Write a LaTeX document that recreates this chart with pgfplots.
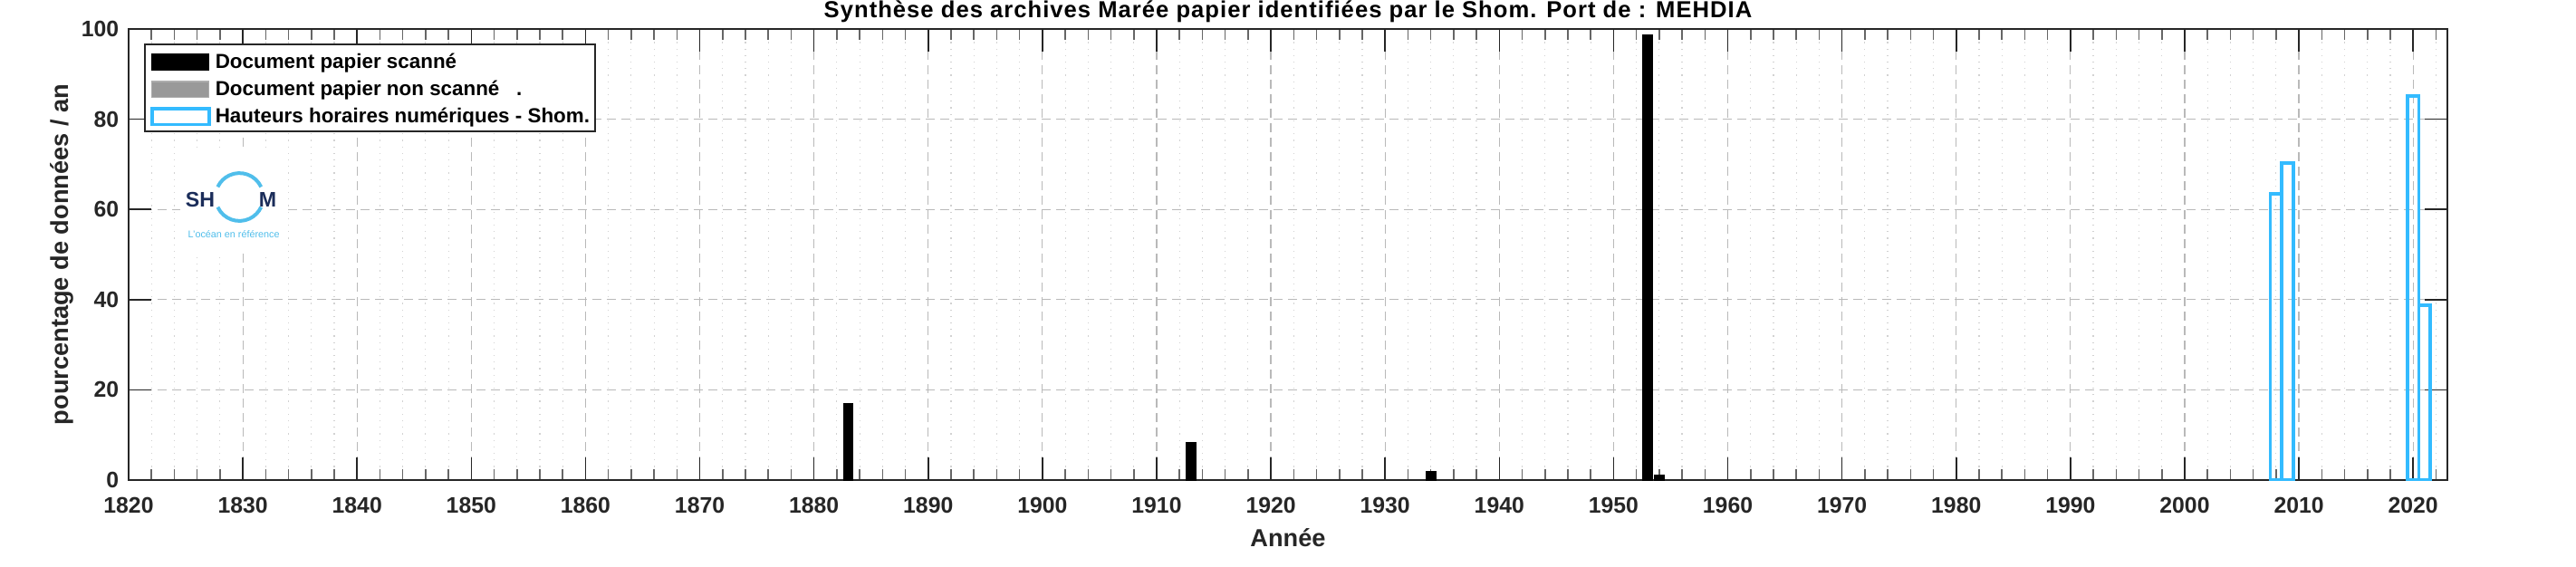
\documentclass[border=0pt]{standalone}
\usepackage{fontspec}
\setmainfont{Liberation Sans}
\newfontfamily\titlefont[LetterSpace=4]{Liberation Sans}
\usepackage{pgfplots}
\pgfplotsset{compat=1.18}
\definecolor{shomblue}{RGB}{51,187,255}
\definecolor{gridgray}{RGB}{185,185,185}
\definecolor{minorgray}{RGB}{210,210,210}
\definecolor{textgray}{RGB}{38,38,38}
\definecolor{logonavy}{RGB}{27,45,90}
\definecolor{logoblue}{RGB}{80,190,235}
\definecolor{legendgray}{RGB}{153,153,153}
\pgfplotsset{mylegend/.style={legend image code/.code={\draw[##1] (0pt,-0.4pt) rectangle (15.75pt,4pt);}}}
\begin{document}
\begin{tikzpicture}
\begin{axis}[
  scale only axis, width=640pt, height=124.5pt,
  xmin=1820, xmax=2023, ymin=0, ymax=100,
  xtick={1820,1830,...,2020}, ytick={0,20,...,100},
  minor xtick={1822,1824,1826,1828,1832,1834,1836,1838,1842,1844,1846,1848,1852,1854,1856,1858,1862,1864,1866,1868,1872,1874,1876,1878,1882,1884,1886,1888,1892,1894,1896,1898,1902,1904,1906,1908,1912,1914,1916,1918,1922,1924,1926,1928,1932,1934,1936,1938,1942,1944,1946,1948,1952,1954,1956,1958,1962,1964,1966,1968,1972,1974,1976,1978,1982,1984,1986,1988,1992,1994,1996,1998,2002,2004,2006,2008,2012,2014,2016,2018,2022},
  xmajorgrids, ymajorgrids, xminorgrids,
  tick align=inside, major tick length=6.25pt, minor tick length=3pt,
  major tick style={textgray, line width=0.4pt},
  minor tick style={black!60, line width=0.4pt},
  axis line style={textgray, line width=0.5pt},
  major grid style={gridgray, line width=0.3pt, dash pattern=on 2.5pt off 1.5pt},
  minor grid style={minorgray, line width=0.3pt, dash pattern=on 0.3pt off 1.5pt},
  /pgf/number format/assume math mode=true,
  /pgf/number format/1000 sep={},
  xticklabel style={font=\fontsize{6.2}{7}\selectfont\bfseries, text=textgray, inner sep=0pt, yshift=-4.5pt},
  yticklabel style={font=\fontsize{6.2}{7}\selectfont\bfseries, text=textgray, inner sep=0pt, xshift=-2.5pt},
  every axis title/.style={at={(0.5,1)}, anchor=base, yshift=3.25pt, inner sep=0pt, font=\fontsize{6.4}{8}\titlefont\bfseries},
  every axis x label/.style={at={(0.5,-0.1064)}, anchor=north, inner sep=0pt, font=\fontsize{6.8}{8}\selectfont\bfseries, text=textgray},
  every axis y label/.style={at={(-0.0289,0.5)}, rotate=90, anchor=center, inner sep=0pt, font=\fontsize{6.8}{8}\selectfont\bfseries, text=textgray},
  title={Synthèse des archives Marée papier identifiées par le Shom. Port de : MEHDIA},
  xlabel={Année},
  ylabel={pourcentage de données / an},
  legend cell align=left,
  legend style={at={(0.00664,0.9679)}, anchor=north west, draw=textgray, line width=0.5pt, fill=white,
    inner xsep=1.5pt, inner ysep=0.75pt, row sep=0pt, column sep=1.25pt,
    font=\fontsize{5.6}{6}\selectfont\bfseries,
    cells={anchor=base west},
    nodes={inner sep=0pt, text height=6pt, text depth=1.5pt}},
]
\addplot[ybar, bar width=0.85, bar shift=0pt, fill=black, draw=black, line width=0.3pt, mylegend]
  coordinates {(1883,16.9) (1913,8.4) (1934,1.8) (1953,98.6) (1954,1.0)};
\addlegendentry{Document papier scanné}
\addlegendimage{fill=legendgray, draw=legendgray!80, line width=0.3pt, mylegend}
\addlegendentry{Document papier non scanné\ \ \ .}
\addplot[ybar, bar width=1, bar shift=0pt, fill=none, draw=shomblue, line width=0.95pt, mylegend]
  coordinates {(2008,63.4) (2009,70.3) (2020,85.1) (2021,38.7)};
\addlegendentry{Hauteurs horaires numériques - Shom.}
% logo
\fill[white] (axis cs:1824.5,50.2) rectangle (axis cs:1833.5,72.7);
\draw[logoblue, line width=1pt] ([shift={(25:6.6pt)}]axis cs:1829.7,62.75) arc[start angle=25,end angle=155,radius=6.6pt];
\draw[logoblue, line width=1pt] ([shift={(205:6.6pt)}]axis cs:1829.7,62.75) arc[start angle=205,end angle=335,radius=6.6pt];
\node[anchor=base east, inner sep=0pt, text=logonavy, font=\fontsize{5.8}{6}\selectfont\bfseries] at (axis cs:1827.6,60.6) {SH};
\node[anchor=base west, inner sep=0pt, text=logonavy, font=\fontsize{5.8}{6}\selectfont\bfseries] at (axis cs:1831.34,60.6) {M};
\node[anchor=base west, inner sep=0pt, text=logoblue, font=\fontsize{2.7}{3}\selectfont] at (axis cs:1825.15,53.8) {L'océan en référence};
\end{axis}
\pgfresetboundingbox
\path[use as bounding box] ([shift={(-35.5pt,-23.75pt)}]current axis.south west) rectangle ([shift={(35.5pt,8pt)}]current axis.north east);
\end{tikzpicture}
\end{document}
